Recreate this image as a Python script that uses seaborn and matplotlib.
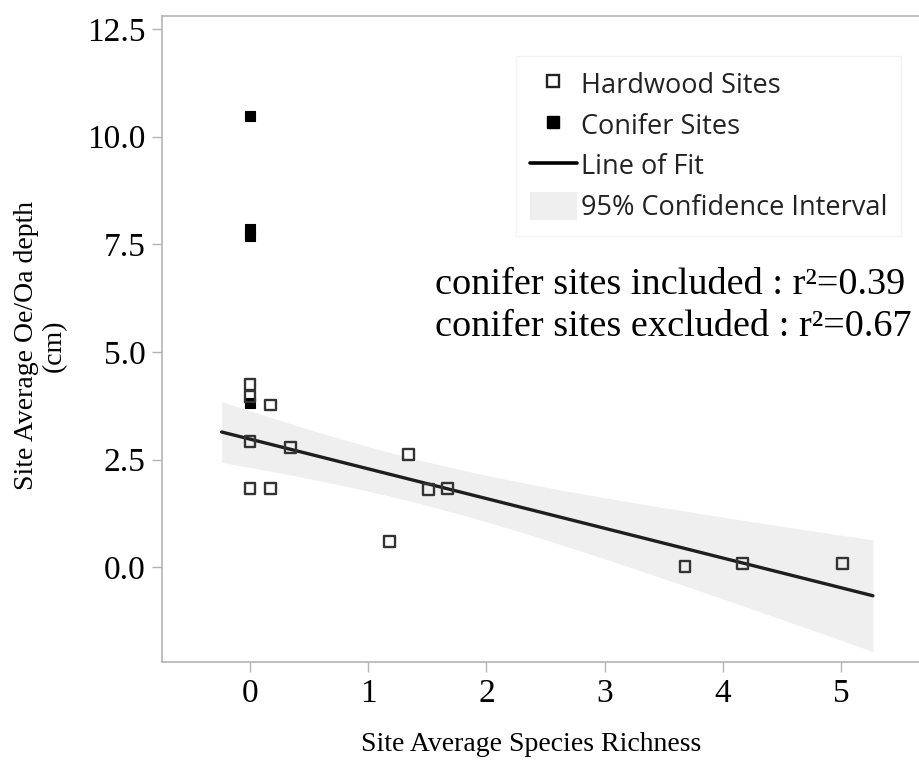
import numpy as np
import pandas as pd
import matplotlib
matplotlib.use("Agg")
import matplotlib.pyplot as plt
import seaborn as sns
from matplotlib.lines import Line2D
from matplotlib.patches import Patch

# ---------------- data ----------------
hardwood_x = [0.00, 0.00, 0.17, 0.00, 0.34, 0.00, 0.17, 1.18, 1.34, 1.51, 1.67, 3.68, 4.17, 5.01]
hardwood_y = [4.24, 3.96, 3.77, 2.92, 2.78, 1.84, 1.84, 0.60, 2.63, 1.80, 1.84, 0.02, 0.09, 0.09]
conifer_x = [0.00, 0.00, 0.00, 0.00]
conifer_y = [10.48, 7.85, 7.70, 3.82]
x_ticks = [0, 1, 2, 3, 4, 5]
y_ticks = [0.0, 2.5, 5.0, 7.5, 10.0, 12.5]
legend_labels = ["Hardwood Sites", "Conifer Sites", "Line of Fit", "95% Confidence Interval"]
annotation_lines = ["conifer sites included : r\u00b2=0.39", "conifer sites excluded : r\u00b2=0.67"]
x_label = "Site Average Species Richness"
y_label = "Site Average Oe/Oa depth\n(cm)"
fit_range = (-0.24, 5.27)   # extent of the drawn fit line / band
t_crit = 2.179              # Student t, 95 %, df = 12

# ---------------- style ----------------
sns.set_theme(style="white")
plt.rcParams["font.family"] = ["Liberation Serif", "DejaVu Serif"]

W, H = 920, 772
fig = plt.figure(figsize=(W / 100, H / 100), dpi=100)
ax = fig.add_axes([162 / W, (H - 662) / H, (W - 162) / W, (662 - 16) / H])

hard = pd.DataFrame({"x": hardwood_x, "y": hardwood_y})
con = pd.DataFrame({"x": conifer_x, "y": conifer_y})

# ---------------- OLS fit on hardwood sites, analytic 95% CI ----------------
hx = hard["x"].to_numpy()
hy = hard["y"].to_numpy()
slope, intercept = np.polyfit(hx, hy, 1)
n = len(hx)
resid = hy - (intercept + slope * hx)
s = np.sqrt((resid ** 2).sum() / (n - 2))
sxx = ((hx - hx.mean()) ** 2).sum()
xs = np.linspace(fit_range[0], fit_range[1], 300)
yhat = intercept + slope * xs
half = t_crit * s * np.sqrt(1.0 / n + (xs - hx.mean()) ** 2 / sxx)

band_color = "#efefef"
line_color = "#1e1e1e"
ax.fill_between(xs, yhat - half, yhat + half, color=band_color, lw=0, zorder=1)
sns.lineplot(x=xs, y=yhat, ax=ax, color=line_color, lw=2.4, zorder=2, legend=False)

sns.scatterplot(data=con, x="x", y="y", ax=ax, marker="s", s=62, color="black",
                edgecolor="black", linewidth=0.8, zorder=3, legend=False)
sns.scatterplot(data=hard, x="x", y="y", ax=ax, marker="s", s=62, facecolor="none",
                edgecolor="#333333", linewidth=1.7, zorder=4, legend=False)

# ---------------- axes ----------------
x_per_px = 1 / 118.2
y_per_px = 1 / 43.07
ax.set_xlim(-(250 - 162) * x_per_px, (W - 250) * x_per_px)
ax.set_ylim(-(662 - 567.4) * y_per_px, 12.5 + (29 - 16) * y_per_px)
ax.set_xticks(x_ticks)
ax.set_xticklabels([str(t) for t in x_ticks])
ax.set_yticks(y_ticks)
ax.set_yticklabels([f"{t:.1f}" for t in y_ticks])

spine_c = "#b4b4b4"
for side in ["left", "bottom", "top"]:
    ax.spines[side].set_color(spine_c)
    ax.spines[side].set_linewidth(1.2)
ax.spines["right"].set_visible(False)
ax.tick_params(axis="both", which="major", direction="out", length=7, width=1.0,
               color=spine_c, labelsize=24, labelcolor="black", pad=5)
ax.tick_params(left=True, bottom=True)

ax.set_xlabel(x_label, fontsize=20, color="black")
ax.xaxis.set_label_coords(0.487, -0.108)
ax.set_ylabel(y_label, fontsize=20, color="black", linespacing=1.15)
ax.yaxis.set_label_coords(-(162 - 40) / (W - 162), 0.49)
ax.yaxis.label.set_va("center")

# ---------------- annotation ----------------
ax.text(1.565, 6.57, annotation_lines[0], fontsize=27.5, color="black", va="center", ha="left")
ax.text(1.565, 5.58, annotation_lines[1], fontsize=27.5, color="black", va="center", ha="left")

# ---------------- legend ----------------
handles = [
    Line2D([], [], marker="s", ls="none", markersize=8, markerfacecolor="none",
           markeredgecolor="#222222", markeredgewidth=1.7),
    Line2D([], [], marker="s", ls="none", markersize=8, markerfacecolor="black",
           markeredgecolor="black"),
    Line2D([], [], color="black", lw=2.6),
    Patch(facecolor=band_color, edgecolor="none"),
]
leg = ax.legend(handles, legend_labels, loc="upper left",
                bbox_to_anchor=(516 / W, 1 - 56 / H), bbox_transform=fig.transFigure,
                prop={"family": ["Open Sans", "DejaVu Sans"], "size": 19.5},
                frameon=True, fancybox=False, edgecolor="#f3f3f3", facecolor="white",
                framealpha=1, handlelength=1.75, handleheight=1.25, handletextpad=0.15,
                labelspacing=0.38, borderpad=0.5, borderaxespad=0)
for t in leg.get_texts():
    t.set_color("#222222")

fig.savefig("out.png", dpi=100)
